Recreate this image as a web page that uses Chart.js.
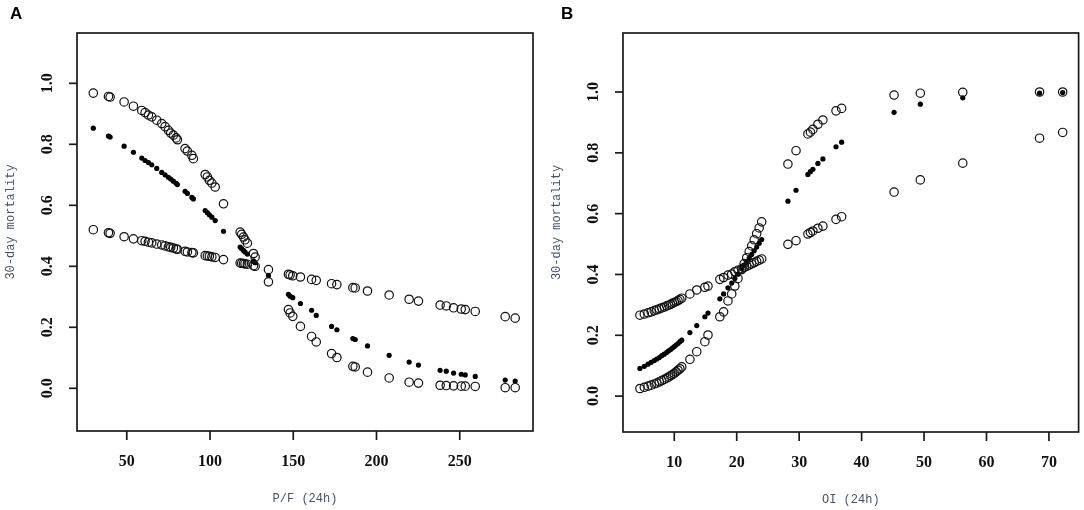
<!DOCTYPE html>
<html>
<head>
<meta charset="utf-8">
<script src="https://cdn.jsdelivr.net/npm/chart.js@4.4.0/dist/chart.umd.min.js"></script>
<style>
  body { margin: 0; background: #fff; }
  #wrap { position: relative; width: 1084px; height: 510px; }
  canvas { position: absolute; top: 0; }
</style>
</head>
<body>
<div id="wrap">
  <canvas id="pfChart" width="545" height="510" style="left:0"></canvas>
  <canvas id="oiChart" width="539" height="510" style="left:545px"></canvas>
</div>
<script>
// Panel A: P/F (24h)
const pfX = [29.9, 39.0, 40.0, 48.4, 54.0, 59.0, 61.0, 63.0, 65.0, 68.0, 71.0, 73.0, 75.0, 76.4, 78.0, 79.6, 80.4,
  85.0, 86.4, 89.1, 90.0, 97.1, 98.4, 99.6, 101.1, 103.1, 108.1, 118.1, 119.0, 120.1, 121.0, 122.4, 126.1, 127.1,
  135.1, 147.1, 148.1, 149.7, 154.3, 161.0, 163.8, 173.0, 176.2, 185.8, 187.2, 194.6, 207.6, 219.6, 225.2,
  238.2, 241.9, 246.3, 250.9, 253.3, 259.3, 277.3, 283.3];
const pfBandSteep = [0.968, 0.957, 0.955, 0.939, 0.925, 0.911, 0.904, 0.896, 0.890, 0.879, 0.868, 0.858, 0.846, 0.837, 0.830, 0.821, 0.815,
  0.786, 0.778, 0.764, 0.753, 0.701, 0.693, 0.682, 0.673, 0.660, 0.605, 0.512, 0.505, 0.496, 0.487, 0.476, 0.442, 0.430,
  0.349, 0.258, 0.247, 0.236, 0.203, 0.170, 0.152, 0.114, 0.101, 0.072, 0.070, 0.053, 0.034, 0.020, 0.017,
  0.010, 0.009, 0.008, 0.007, 0.007, 0.006, 0.002, 0.002];
const pfFit = [0.853, 0.827, 0.824, 0.794, 0.774, 0.755, 0.747, 0.740, 0.733, 0.721, 0.708, 0.700, 0.692, 0.686, 0.679, 0.672, 0.668,
  0.646, 0.639, 0.626, 0.621, 0.583, 0.576, 0.569, 0.561, 0.550, 0.515, 0.463, 0.458, 0.452, 0.447, 0.440, 0.418, 0.412,
  0.370, 0.308, 0.302, 0.297, 0.278, 0.256, 0.239, 0.203, 0.192, 0.163, 0.160, 0.139, 0.108, 0.086, 0.076,
  0.059, 0.056, 0.050, 0.046, 0.044, 0.039, 0.027, 0.024];
const pfBandFlat = [0.520, 0.510, 0.508, 0.497, 0.490, 0.484, 0.482, 0.479, 0.477, 0.473, 0.470, 0.467, 0.464, 0.462, 0.460, 0.457, 0.456,
  0.449, 0.447, 0.445, 0.444, 0.435, 0.434, 0.433, 0.431, 0.429, 0.422, 0.411, 0.410, 0.409, 0.408, 0.407, 0.402, 0.400,
  0.389, 0.374, 0.372, 0.369, 0.365, 0.357, 0.354, 0.343, 0.340, 0.330, 0.329, 0.319, 0.306, 0.292, 0.286,
  0.273, 0.270, 0.264, 0.260, 0.258, 0.252, 0.235, 0.230];
const pfXTicks = [50, 100, 150, 200, 250];

// Panel B: OI (24h)
const oiX = [4.5, 5.2, 5.8, 6.3, 6.8, 7.2, 7.6, 8.0, 8.4, 8.8, 9.1, 9.4, 9.7, 10.0, 10.3, 10.6, 10.9, 11.2,
  12.5, 13.6, 14.9, 15.4, 17.3, 17.9, 18.6, 19.2, 19.7, 20.2,
  20.8, 21.2, 21.6, 22.0, 22.4, 22.8, 23.2, 23.6, 24.0,
  28.2, 29.5, 31.4, 31.8, 32.2, 33.0, 33.8, 35.9, 36.8, 45.2, 49.4, 56.2, 68.5, 72.2];
const oiBandFlat = [0.266, 0.270, 0.274, 0.277, 0.281, 0.284, 0.287, 0.290, 0.293, 0.297, 0.299, 0.302, 0.305, 0.308, 0.311, 0.314, 0.318, 0.322,
  0.336, 0.349, 0.358, 0.362, 0.384, 0.390, 0.398, 0.401, 0.409, 0.414,
  0.419, 0.423, 0.427, 0.431, 0.435, 0.439, 0.443, 0.447, 0.451,
  0.499, 0.511, 0.533, 0.538, 0.543, 0.552, 0.559, 0.581, 0.590, 0.671, 0.711, 0.766, 0.848, 0.867];
const oiFit = [0.091, 0.098, 0.105, 0.111, 0.117, 0.122, 0.127, 0.133, 0.138, 0.144, 0.149, 0.153, 0.158, 0.163, 0.168, 0.173, 0.179, 0.184,
  0.209, 0.232, 0.261, 0.273, 0.320, 0.336, 0.356, 0.372, 0.387, 0.401,
  0.419, 0.430, 0.442, 0.454, 0.466, 0.478, 0.490, 0.503, 0.515,
  0.641, 0.677, 0.729, 0.738, 0.746, 0.765, 0.780, 0.820, 0.835, 0.933, 0.960, 0.981, 0.996, 0.998];
const oiBandSteep = [0.025, 0.029, 0.033, 0.036, 0.040, 0.043, 0.047, 0.051, 0.055, 0.059, 0.063, 0.067, 0.071, 0.075, 0.080, 0.085, 0.090, 0.096,
  0.121, 0.146, 0.179, 0.201, 0.261, 0.277, 0.313, 0.336, 0.362, 0.387,
  0.416, 0.436, 0.455, 0.475, 0.494, 0.514, 0.534, 0.553, 0.573,
  0.763, 0.807, 0.862, 0.868, 0.877, 0.894, 0.908, 0.938, 0.946, 0.990, 0.996, 0.999, 1.0, 1.0];
const oiXTicks = [10, 20, 30, 40, 50, 60, 70];

const yTicks = [0.0, 0.2, 0.4, 0.6, 0.8, 1.0];

function toPoints(xs, ys) {
    return xs.map((x, i) => ({ x: x, y: ys[i] }));
}

// R-style frame: box, outward ticks, rotated y labels, titles, panel letter
const rFrame = {
    id: 'rframe',
    afterDraw(chart, args, opts) {
        const ctx = chart.ctx;
        const a = chart.chartArea;
        const xs = chart.scales.x;
        const ys = chart.scales.y;
        ctx.save();
        ctx.strokeStyle = '#1a1a1a';
        ctx.lineWidth = 1.7;
        ctx.strokeRect(a.left, a.top, a.right - a.left, a.bottom - a.top);

        ctx.fillStyle = '#111';
        ctx.font = 'bold 16px "Liberation Serif"';
        ctx.textAlign = 'center';
        ctx.textBaseline = 'middle';
        opts.xTicks.forEach(v => {
            const px = xs.getPixelForValue(v);
            ctx.beginPath();
            ctx.moveTo(px, a.bottom);
            ctx.lineTo(px, a.bottom + 9);
            ctx.stroke();
            ctx.fillText(String(v), px, a.bottom + 31);
        });
        opts.yTicks.forEach(v => {
            const py = ys.getPixelForValue(v);
            ctx.beginPath();
            ctx.moveTo(a.left - 8, py);
            ctx.lineTo(a.left, py);
            ctx.stroke();
            ctx.save();
            ctx.translate(a.left - 29, py);
            ctx.rotate(-Math.PI / 2);
            ctx.fillText(v.toFixed(1), 0, 0);
            ctx.restore();
        });

        ctx.fillStyle = '#44536a';
        ctx.font = '12px "Liberation Mono"';
        ctx.fillText(opts.xTitle, (a.left + a.right) / 2, a.bottom + 68);
        ctx.save();
        ctx.translate(a.left - 66, (a.top + a.bottom) / 2 - 10);
        ctx.rotate(-Math.PI / 2);
        ctx.fillText(opts.yTitle, 0, 0);
        ctx.restore();

        ctx.fillStyle = '#000';
        ctx.font = 'bold 17px "Liberation Sans"';
        ctx.textAlign = 'left';
        ctx.fillText(opts.letter, opts.letterX, 14);
        ctx.restore();
    }
};

function makePanel(id, xs, steep, fit, flat, xMin, xMax, yMin, yMax, padding, frame) {
    const open = {
        pointStyle: 'circle', pointRadius: 4.2, borderWidth: 1.2,
        borderColor: '#111', backgroundColor: 'rgba(0,0,0,0)', showLine: false
    };
    return new Chart(document.getElementById(id).getContext('2d'), {
        type: 'scatter',
        data: {
            datasets: [
                Object.assign({ label: 'band 1', data: toPoints(xs, steep) }, open),
                Object.assign({ label: 'band 2', data: toPoints(xs, flat) }, open),
                {
                    label: 'fitted', data: toPoints(xs, fit),
                    pointRadius: 2.6, borderWidth: 0, backgroundColor: '#000', borderColor: '#000'
                }
            ]
        },
        options: {
            responsive: false,
            animation: false,
            events: [],
            layout: { padding: padding },
            plugins: { legend: { display: false }, tooltip: { enabled: false }, rframe: frame },
            scales: {
                x: { type: 'linear', min: xMin, max: xMax, display: false },
                y: { type: 'linear', min: yMin, max: yMax, display: false }
            }
        },
        plugins: [rFrame]
    });
}

makePanel('pfChart', pfX, pfBandSteep, pfFit, pfBandFlat, 20.1, 294, -0.14, 1.165,
    { left: 77, top: 33, right: 12, bottom: 79 },
    { xTicks: pfXTicks, yTicks: yTicks, xTitle: 'P/F (24h)', yTitle: '30-day mortality', letter: 'A', letterX: 10 });

makePanel('oiChart', oiX, oiBandSteep, oiFit, oiBandFlat, 1.79, 74.75, -0.118, 1.194,
    { left: 78, top: 33, right: 5, bottom: 78 },
    { xTicks: oiXTicks, yTicks: yTicks, xTitle: 'OI (24h)', yTitle: '30-day mortality', letter: 'B', letterX: 16 });
</script>
</body>
</html>
